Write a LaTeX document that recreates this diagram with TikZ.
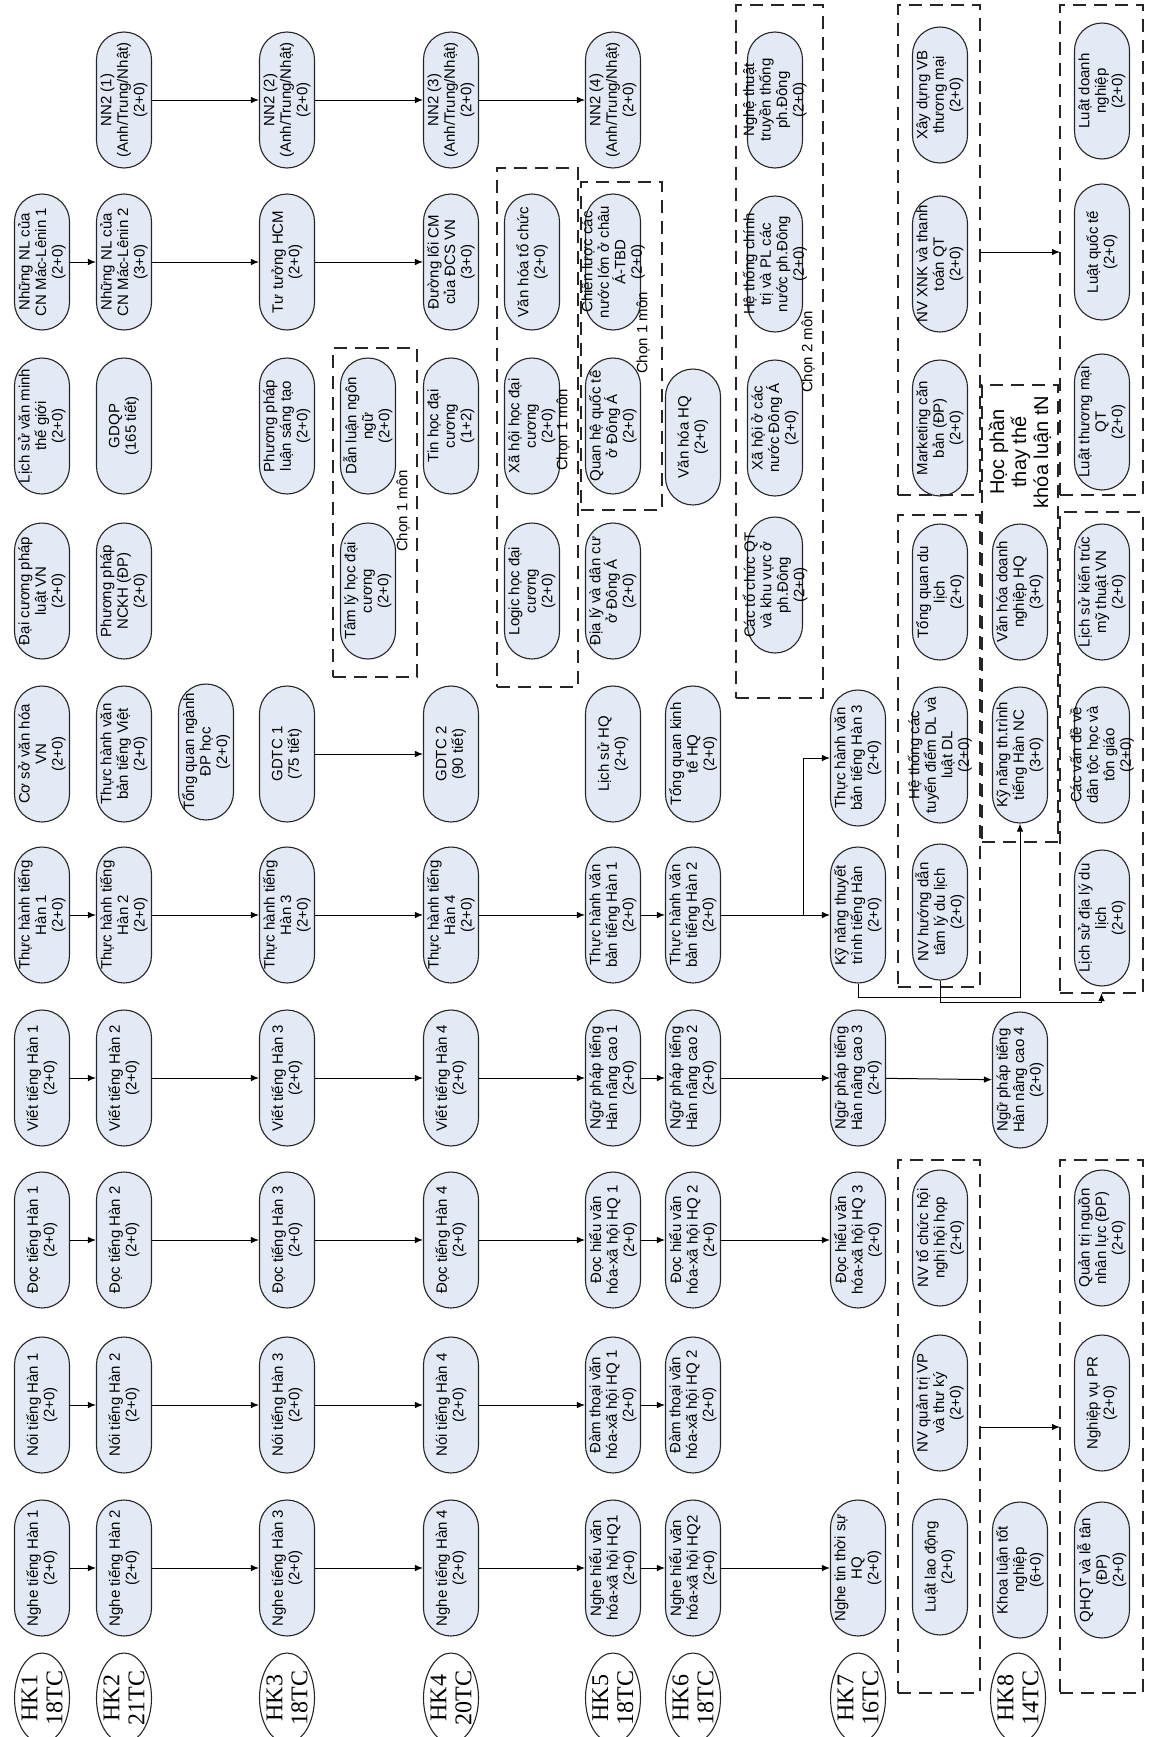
\documentclass[tikz,border=0pt]{standalone}
\usepackage{fontspec}
\setmainfont{Liberation Sans}
\newfontfamily\hkfont{Liberation Serif}
\usetikzlibrary{arrows.meta,shapes.misc,shapes.geometric}
\definecolor{monfill}{RGB}{228,234,245}
\tikzset{
  mon/.style={rounded rectangle,draw=black!85,line width=1.1pt,fill=monfill,
    minimum width=136pt,minimum height=55pt,inner sep=0pt,rotate=90},
  chu/.style={rotate=90,align=center,inner sep=0pt,font={\fontsize{15}{16.5}\selectfont}},
  hk/.style={ellipse,draw=black!85,line width=1.1pt,minimum width=90pt,
    minimum height=55pt,inner sep=0pt,rotate=90},
  hkchu/.style={rotate=90,align=center,inner sep=0pt,font={\hkfont\fontsize{24}{25}\selectfont}},
  khung/.style 2 args={draw=black!85,line width=1.1pt,dash pattern=on 13pt off 8pt,
    inner sep=0pt,outer sep=0pt,minimum width=#1pt,minimum height=#2pt},
  nhan/.style={rotate=90,inner sep=0pt,font={\fontsize{15}{16.5}\selectfont}},
  tieude/.style={rotate=90,align=center,inner sep=0pt,font={\fontsize{20}{22}\selectfont}},
  mui/.style={-{Latex[length=8pt,width=6.5pt]},line width=1pt},
}
% mot mon hoc: khung + chu
\newcommand{\monhoc}[4]{\node[mon] (#1) at (#2,#3) {}; \node[chu] (#1-t) at (#1) {#4};}
\newcommand{\hocky}[3]{\node[hk] (#1) at (#2,1698) {}; \node[hkchu] (#1-t) at (#1) {#3};}

\begin{document}
\begin{tikzpicture}[x=1pt,y=-1pt]
  \useasboundingbox (0,0) rectangle (1149,1737);
  % hoc ky
  \hocky{hk1}{42}{HK1\\18TC}
  \hocky{hk2}{124}{HK2\\21TC}
  \hocky{hk3}{287}{HK3\\18TC}
  \hocky{hk4}{451}{HK4\\20TC}
  \hocky{hk5}{613}{HK5\\18TC}
  \hocky{hk6}{693}{HK6\\18TC}
  \hocky{hk7}{858}{HK7\\16TC}
  \hocky{hk8}{1018}{HK8\\14TC}
  % tieng Han co so HK1-HK4
  \foreach \k/\x in {1/42,2/124,3/287,4/451}{
    \monhoc{nghe\k}{\x}{1568}{Nghe tiếng Hàn \k\\(2+0)}
    \monhoc{noi\k}{\x}{1405}{Nói tiếng Hàn \k\\(2+0)}
    \monhoc{doc\k}{\x}{1240}{Đọc tiếng Hàn \k\\(2+0)}
    \monhoc{viet\k}{\x}{1078}{Viết tiếng Hàn \k\\(2+0)}
    \monhoc{th\k}{\x}{915}{Thực hành tiếng\\Hàn \k\\(2+0)}
  }
  % HK1
  \monhoc{csvh}{42}{754}{Cơ sở văn hóa\\VN\\(2+0)}
  \monhoc{dcpl}{42}{591}{Đại cương pháp\\luật VN\\(2+0)}
  \monhoc{lsvm}{42}{426}{Lịch sử văn minh\\thế giới\\(2+0)}
  \monhoc{nlml1}{42}{262}{Những NL của\\CN Mác-Lênin 1\\(2+0)}
  % HK2
  \monhoc{tvbv}{124}{754}{Thực hành văn\\bản tiếng Việt\\(2+0)}
  \monhoc{ppnc}{124}{591}{Phương pháp\\NCKH (ĐP)\\(2+0)}
  \monhoc{gdqp}{124}{426}{GDQP\\(165 tiết)}
  \monhoc{nlml2}{124}{262}{Những NL của\\CN Mác-Lênin 2\\(3+0)}
  \monhoc{nn1}{124}{100}{NN2 (1)\\(Anh/Trung/Nhật)\\(2+0)}
  \monhoc{tqn}{206}{752}{Tổng quan ngành\\ĐP học\\(2+0)}
  % HK3
  \monhoc{gdtc1}{287}{754}{GDTC 1\\(75 tiết)}
  \monhoc{pplst}{287}{426}{Phương pháp\\luận sáng tạo\\(2+0)}
  \monhoc{tthcm}{287}{262}{Tư tưởng HCM\\(2+0)}
  \monhoc{nn2}{287}{100}{NN2 (2)\\(Anh/Trung/Nhật)\\(2+0)}
  \monhoc{tlh}{368}{591}{Tâm lý học đại\\cương\\(2+0)}
  \monhoc{dlnn}{368}{426}{Dẫn luận ngôn\\ngữ\\(2+0)}
  % HK4
  \monhoc{gdtc2}{451}{754}{GDTC 2\\(90 tiết)}
  \monhoc{thdc}{451}{426}{Tin học đại\\cương\\(1+2)}
  \monhoc{dlcm}{451}{262}{Đường lối CM\\của ĐCS VN\\(3+0)}
  \monhoc{nn3}{451}{100}{NN2 (3)\\(Anh/Trung/Nhật)\\(2+0)}
  \monhoc{lhdc}{532}{591}{Logic học đại\\cương\\(2+0)}
  \monhoc{xhdc}{532}{426}{Xã hội học đại\\cương\\(2+0)}
  \monhoc{vhtc}{532}{262}{Văn hóa tổ chức\\(2+0)}
  % HK5
  \monhoc{nh1}{613}{1568}{Nghe hiểu văn\\hóa-xã hội HQ1\\(2+0)}
  \monhoc{dt1}{613}{1405}{Đàm thoại văn\\hóa-xã hội HQ 1\\(2+0)}
  \monhoc{dh1}{613}{1240}{Đọc hiểu văn\\hóa-xã hội HQ 1\\(2+0)}
  \monhoc{np1}{613}{1078}{Ngữ pháp tiếng\\Hàn nâng cao 1\\(2+0)}
  \monhoc{tvh1}{613}{915}{Thực hành văn\\bản tiếng Hàn 1\\(2+0)}
  \monhoc{lshq}{613}{754}{Lịch sử HQ\\(2+0)}
  \monhoc{dldc}{613}{591}{Địa lý và dân cư\\ở Đông Á\\(2+0)}
  \monhoc{qhqt}{613}{426}{Quan hệ quốc tế\\ở Đông Á\\(2+0)}
  \monhoc{clnl}{613}{262}{Chiến lược các\\nước lớn ở châu\\Á-TBD\\(2+0)}
  \monhoc{nn4}{613}{100}{NN2 (4)\\(Anh/Trung/Nhật)\\(2+0)}
  % HK6
  \monhoc{nh2}{693}{1568}{Nghe hiểu văn\\hóa-xã hội HQ2\\(2+0)}
  \monhoc{dt2}{693}{1405}{Đàm thoại văn\\hóa-xã hội HQ 2\\(2+0)}
  \monhoc{dh2}{693}{1240}{Đọc hiểu văn\\hóa-xã hội HQ 2\\(2+0)}
  \monhoc{np2}{693}{1078}{Ngữ pháp tiếng\\Hàn nâng cao 2\\(2+0)}
  \monhoc{tvh2}{693}{915}{Thực hành văn\\bản tiếng Hàn 2\\(2+0)}
  \monhoc{tqkt}{693}{754}{Tổng quan kinh\\tế HQ\\(2+0)}
  \monhoc{vhhq}{693}{437}{Văn hóa HQ\\(2+0)}
  \monhoc{tcqt}{775}{585}{Các tổ chức QT\\và khu vực ở\\ph.Đông\\(2+0)}
  \monhoc{xhdn}{775}{428}{Xã hội ở các\\nước Đông Á\\(2+0)}
  \monhoc{htct}{775}{264}{Hệ thống chính\\trị và PL các\\nước ph.Đông\\(2+0)}
  \monhoc{nttt}{775}{100}{Nghệ thuật\\truyền thống\\ph.Đông\\(2+0)}
  % HK7
  \monhoc{ntts}{858}{1568}{Nghe tin thời sự\\HQ\\(2+0)}
  \monhoc{dh3}{858}{1240}{Đọc hiểu văn\\hóa-xã hội HQ 3\\(2+0)}
  \monhoc{np3}{858}{1078}{Ngữ pháp tiếng\\Hàn nâng cao 3\\(2+0)}
  \monhoc{kntt}{858}{915}{Kỹ năng thuyết\\trình tiếng Hàn\\(2+0)}
  \monhoc{tvh3}{858}{758}{Thực hành văn\\bản tiếng Hàn 3\\(2+0)}
  \monhoc{lld}{940}{1567}{Luật lao động\\(2+0)}
  \monhoc{nvqt}{940}{1403}{NV quản trị VP\\và thư ký\\(2+0)}
  \monhoc{nvtc}{940}{1238}{NV tổ chức hội\\nghị hội họp\\(2+0)}
  \monhoc{nvhd}{940}{912}{NV hướng dẫn\\tâm lý du lịch\\(2+0)}
  \monhoc{htdl}{940}{755}{Hệ thống các\\tuyến điểm DL và\\luật DL\\(2+0)}
  \monhoc{tqdl}{940}{592}{Tổng quan du\\lịch\\(2+0)}
  \monhoc{mkt}{940}{428}{Marketing căn\\bản (ĐP)\\(2+0)}
  \monhoc{xnk}{940}{264}{NV XNK và thanh\\toán QT\\(2+0)}
  \monhoc{xdvb}{940}{95}{Xây dựng VB\\thương mại\\(2+0)}
  % HK8
  \monhoc{kltn}{1020}{1570}{Khoa luận tốt\\nghiệp\\(6+0)}
  \monhoc{np4}{1020}{1080}{Ngữ pháp tiếng\\Hàn nâng cao 4\\(2+0)}
  \monhoc{knnc}{1020}{755}{Kỹ năng th.trình\\tiếng Hàn NC\\(3+0)}
  \monhoc{vhdn}{1020}{592}{Văn hóa doanh\\nghiệp HQ\\(3+0)}
  \node[tieude] (hptt) at (1020,452) {Học phần\\thay thế\\khóa luận tN};
  \monhoc{qhlt}{1102}{1570}{QHQT và lễ tân\\(ĐP)\\(2+0)}
  \monhoc{nvpr}{1102}{1403}{Nghiệp vụ PR\\(2+0)}
  \monhoc{qtnl}{1102}{1238}{Quản trị nguồn\\nhân lực (ĐP)\\(2+0)}
  \monhoc{lsdl}{1102}{918}{Lịch sử địa lý du\\lịch\\(2+0)}
  \monhoc{cvdt}{1102}{755}{Các vấn đề về\\dân tộc học và\\tôn giáo\\(2+0)}
  \monhoc{lskt}{1102}{592}{Lịch sử kiến trúc\\mỹ thuật VN\\(2+0)}
  \monhoc{ltm}{1102}{422}{Luật thương mại\\QT\\(2+0)}
  \monhoc{lqt}{1102}{252}{Luật quốc tế\\(2+0)}
  \monhoc{ldn}{1102}{91}{Luật doanh\\nghiệp\\(2+0)}
  % khung tu chon
  \node[khung={84}{329}] (box1) at (375,512.5) {};
  \node[khung={81}{519}] (box2) at (537.5,427.5) {};
  \node[khung={81}{328}] (box3) at (621.5,346) {};
  \node[khung={87}{693}] (box4) at (779.5,351.5) {};
  \node[khung={82}{533}] (box5) at (939,1426.5) {};
  \node[khung={82}{472}] (box6) at (939,751) {};
  \node[khung={82}{490}] (box7) at (939,250) {};
  \node[khung={76}{457}] (box8) at (1020,613.5) {};
  \node[khung={83}{533}] (box9) at (1101.5,1426.5) {};
  \node[khung={83}{481}] (box10) at (1101.5,752.5) {};
  \node[khung={83}{490}] (box11) at (1101.5,250) {};
  \node[nhan] (chon1) at (403,511) {Chọn 1 môn};
  \node[nhan] (chon2) at (563,430) {Chọn 1 môn};
  \node[nhan] (chon3) at (643,333) {Chọn 1 môn};
  \node[nhan] (chon4) at (808,352) {Chọn 2 môn};
  % mui ten
  \foreach \a/\b in {1/2,2/3,3/4}
    \foreach \t in {nghe,noi,doc,viet,th}
      \draw[mui] (\t\a) -- (\t\b);
  \draw[mui] (nghe4) -- (nh1);
  \draw[mui] (noi4) -- (dt1);
  \draw[mui] (doc4) -- (dh1);
  \draw[mui] (viet4) -- (np1);
  \draw[mui] (th4) -- (tvh1);
  \draw[mui] (nh1) -- (nh2);
  \draw[mui] (dt1) -- (dt2);
  \draw[mui] (dh1) -- (dh2);
  \draw[mui] (np1) -- (np2);
  \draw[mui] (tvh1) -- (tvh2);
  \draw[mui] (nh2) -- (ntts);
  \draw[mui] (dh2) -- (dh3);
  \draw[mui] (np2) -- (np3);
  \draw[mui] (tvh2) -- (kntt);
  \draw[mui] (np3) -- (np4);
  \draw[mui] (nlml1) -- (nlml2);
  \draw[mui] (nlml2) -- (tthcm);
  \draw[mui] (tthcm) -- (dlcm);
  \draw[mui] (nn1) -- (nn2);
  \draw[mui] (nn2) -- (nn3);
  \draw[mui] (nn3) -- (nn4);
  \draw[mui] (gdtc1) -- (gdtc2);
  \coordinate (re) at (803,915);
  \draw[mui] (re) |- (tvh3);
  \draw[mui] (kntt.west) -- ++(0,14) -| (knnc.west);
  \draw[mui] (nvhd.west) -- ++(0,22) -| (box10.south);
  \draw[mui] (box5.east |- 0,1427) -- (box9.west |- 0,1427);
  \draw[mui] (box7.east |- lqt) -- (box11.west |- lqt);
\end{tikzpicture}
\end{document}
